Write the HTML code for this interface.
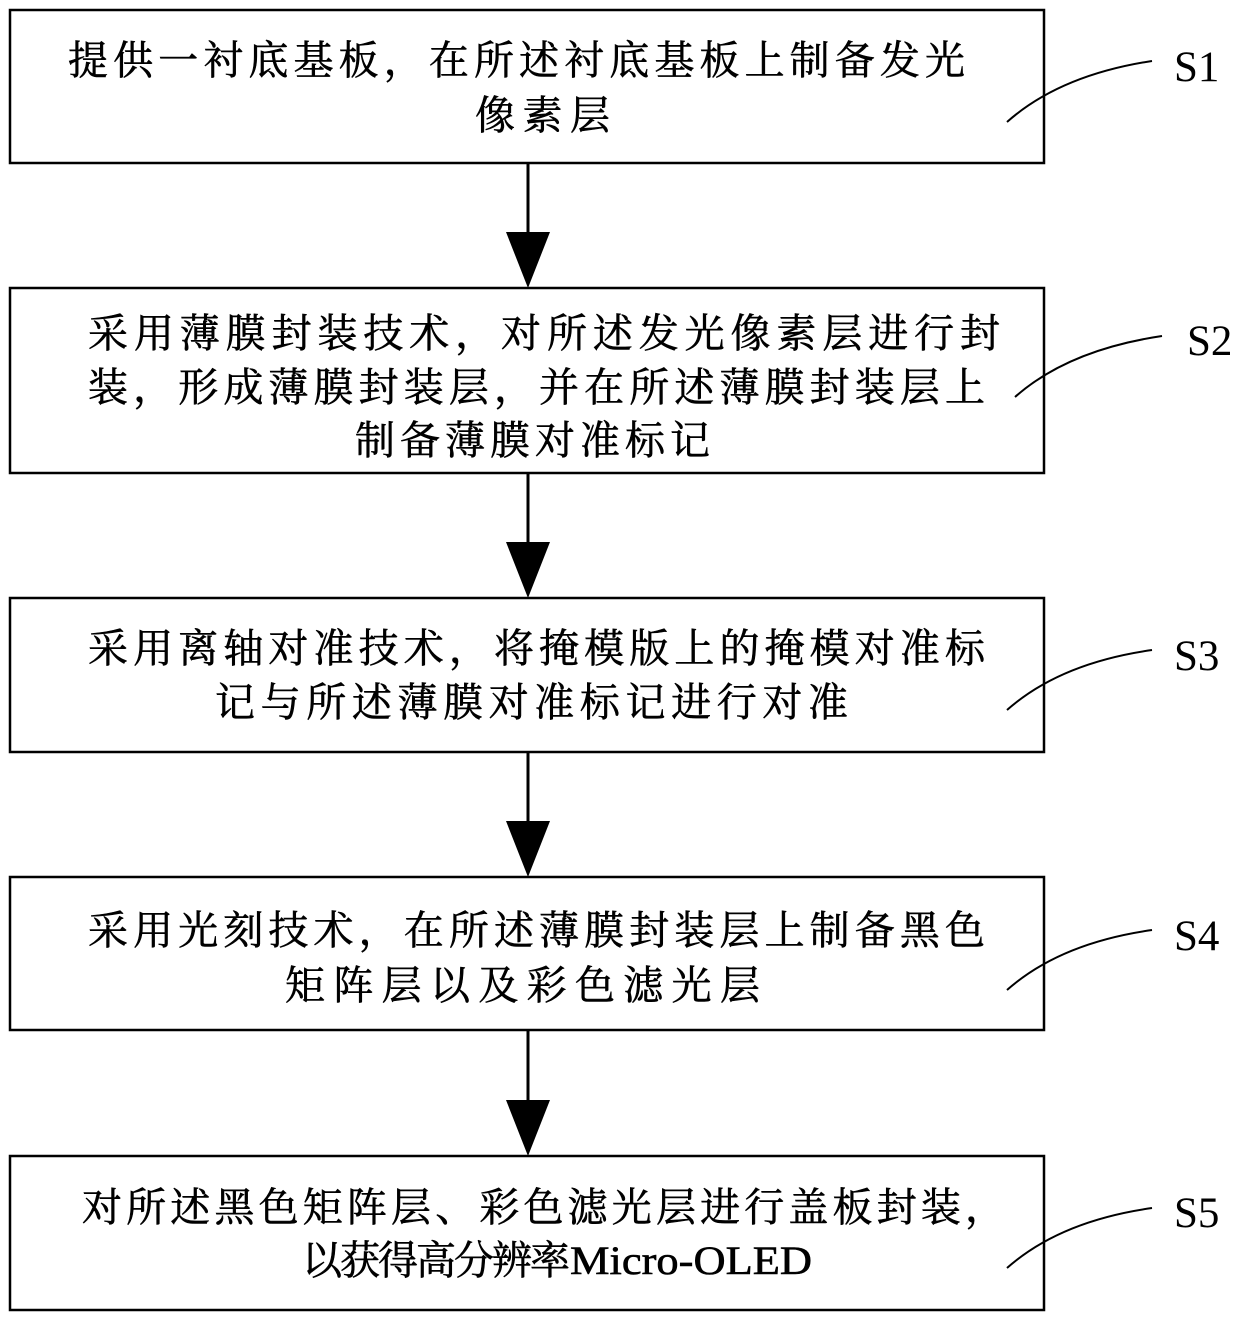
<!DOCTYPE html>
<html><head><meta charset="utf-8"><style>html,body{margin:0;padding:0;background:#fff}svg{display:block}
text{font-family:"Liberation Serif","Noto Serif CJK SC",serif;fill:#000}</style></head><body>
<svg width="1240" height="1320" xmlns="http://www.w3.org/2000/svg">
<g fill="none" stroke="#000" stroke-width="2.5">
<rect x="10" y="10" width="1034" height="153"/>
<rect x="10" y="288" width="1034" height="185"/>
<rect x="10" y="598" width="1034" height="154"/>
<rect x="10" y="877" width="1034" height="153"/>
<rect x="10" y="1156" width="1034" height="154"/>
</g>
<g stroke="#000" stroke-width="3">
<line x1="528" y1="163" x2="528" y2="235"/>
<line x1="528" y1="473" x2="528" y2="545"/>
<line x1="528" y1="752" x2="528" y2="824"/>
<line x1="528" y1="1030" x2="528" y2="1102"/>
</g>
<g fill="#000">
<polygon points="506,232 550,232 528,288"/>
<polygon points="506,542 550,542 528,598"/>
<polygon points="506,821 550,821 528,877"/>
<polygon points="506,1100 550,1100 528,1156"/>
</g>
<g fill="none" stroke="#000" stroke-width="2">
<path d="M1007,122 Q1060,75 1152,61"/>
<path d="M1015,397 Q1068,350 1162,336"/>
<path d="M1007,710 Q1060,663 1152,650"/>
<path d="M1007,990 Q1060,943 1152,930"/>
<path d="M1007,1268 Q1060,1221 1152,1208"/>
</g>
<g font-size="43">
<text x="1174" y="81">S1</text>
<text x="1187" y="355">S2</text>
<text x="1174" y="670">S3</text>
<text x="1174" y="950">S4</text>
<text x="1174" y="1227">S5</text>
</g>
<g font-size="40" stroke="#000" stroke-width="0.6">
<text x="68" y="74" textLength="897" lengthAdjust="spacing">提供一衬底基板，在所述衬底基板上制备发光</text>
<text x="475" y="129" textLength="135" lengthAdjust="spacing">像素层</text>
<text x="88" y="347" textLength="912" lengthAdjust="spacing">采用薄膜封装技术，对所述发光像素层进行封</text>
<text x="88" y="401" textLength="897" lengthAdjust="spacing">装，形成薄膜封装层，并在所述薄膜封装层上</text>
<text x="355" y="454" textLength="355" lengthAdjust="spacing">制备薄膜对准标记</text>
<text x="88" y="662" textLength="897" lengthAdjust="spacing">采用离轴对准技术，将掩模版上的掩模对准标</text>
<text x="215" y="716" textLength="633" lengthAdjust="spacing">记与所述薄膜对准标记进行对准</text>
<text x="88" y="944" textLength="897" lengthAdjust="spacing">采用光刻技术，在所述薄膜封装层上制备黑色</text>
<text x="285" y="999" textLength="475" lengthAdjust="spacing">矩阵层以及彩色滤光层</text>
<text x="82" y="1221" textLength="923" lengthAdjust="spacing">对所述黑色矩阵层、彩色滤光层进行盖板封装，</text>
<text x="302" y="1274" textLength="268" lengthAdjust="spacing">以获得高分辨率</text>
<text x="570" y="1274" textLength="242" lengthAdjust="spacingAndGlyphs">Micro-OLED</text>
</g>
</svg>
</body></html>
